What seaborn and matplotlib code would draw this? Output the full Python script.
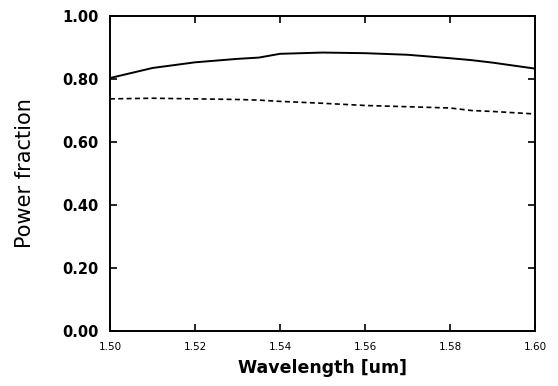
import matplotlib
matplotlib.use("Agg")
import matplotlib.pyplot as plt
import numpy as np
import pandas as pd
import seaborn as sns

wavelength = [1.50, 1.51, 1.52, 1.53, 1.535, 1.54, 1.55, 1.56, 1.57, 1.58, 1.585, 1.59, 1.60]
solid = [0.803, 0.835, 0.853, 0.864, 0.868, 0.880, 0.884, 0.882, 0.877, 0.866, 0.860, 0.852, 0.833]
dashed = [0.737, 0.739, 0.737, 0.735, 0.733, 0.729, 0.723, 0.716, 0.712, 0.708, 0.700, 0.697, 0.689]

xticks = [1.50, 1.52, 1.54, 1.56, 1.58, 1.60]
yticks = [0.0, 0.2, 0.4, 0.6, 0.8, 1.0]

sns.set_style("ticks", {'text.color': 'black', 'axes.labelcolor': 'black',
                        'xtick.color': 'black', 'ytick.color': 'black',
                        'axes.edgecolor': 'black'})
plt.rcParams['font.family'] = ['DejaVu Sans']

df = pd.DataFrame({'wl': wavelength, 'solid': solid, 'dashed': dashed})

fig = plt.figure(figsize=(5.58, 3.86), dpi=100)
ax = fig.add_axes([0.197, 0.1425, 0.762, 0.816])

sns.lineplot(data=df, x='wl', y='solid', color='black', linewidth=1.4, ax=ax)
sns.lineplot(data=df, x='wl', y='dashed', color='black', linewidth=1.2,
             linestyle=(0, (3, 2)), ax=ax)

ax.set_xlim(1.50, 1.60)
ax.set_ylim(0.0, 1.0)
ax.set_xticks(xticks)
ax.set_xticklabels([f'{t:.2f}' for t in xticks], fontsize=7.5)
ax.set_yticks(yticks)
ax.set_yticklabels([f'{t:.2f}' for t in yticks], fontsize=10.5, fontweight='bold')
ax.tick_params(direction='in', length=5, width=1.2, top=True, right=True, pad=8)
for s in ax.spines.values():
    s.set_linewidth(1.4)

ax.set_xlabel('Wavelength [um]', fontsize=12.5, fontweight='bold', labelpad=5)
ax.set_ylabel('Power fraction', fontsize=15, labelpad=20)

fig.savefig('out.png', dpi=100)
